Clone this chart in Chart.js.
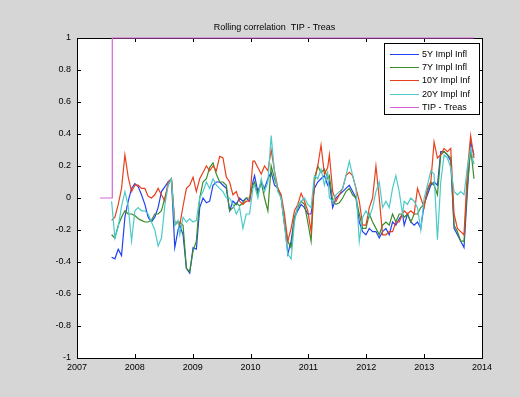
<!DOCTYPE html>
<html>
<head>
<meta charset="utf-8">
<script src="https://cdn.jsdelivr.net/npm/chart.js@4.4.1/dist/chart.umd.min.js"></script>
<style>
  html, body { margin: 0; padding: 0; background: #d6d6d6; }
  canvas { display: block; }
</style>
</head>
<body>
<canvas id="chart" width="520" height="397"></canvas>
<script>
// decimal years of the rolling window ends
var dates = [
  2007.598, 2007.655, 2007.713, 2007.770, 2007.828, 2007.885, 2007.943, 2008.000, 2008.058, 2008.115, 2008.173,
  2008.230, 2008.287, 2008.345, 2008.402, 2008.460, 2008.517, 2008.575, 2008.632, 2008.690, 2008.747,
  2008.776, 2008.833, 2008.891, 2008.948, 2009.006, 2009.063, 2009.121, 2009.178, 2009.236, 2009.293, 2009.351,
  2009.408, 2009.466, 2009.523, 2009.581, 2009.638, 2009.695, 2009.753, 2009.810, 2009.868, 2009.925, 2009.983, 2010.040,
  2010.069, 2010.126, 2010.184, 2010.241, 2010.299, 2010.356, 2010.414, 2010.471, 2010.529, 2010.586, 2010.644,
  2010.701, 2010.759, 2010.816, 2010.874, 2010.931, 2010.989, 2011.046, 2011.103, 2011.161, 2011.218, 2011.276, 2011.333,
  2011.362, 2011.419, 2011.477, 2011.534, 2011.592, 2011.649, 2011.707, 2011.764, 2011.822, 2011.879, 2011.937,
  2011.994, 2012.052, 2012.109, 2012.167, 2012.224, 2012.282, 2012.339, 2012.396, 2012.454, 2012.511, 2012.569, 2012.626,
  2012.655, 2012.712, 2012.770, 2012.827, 2012.885, 2012.942, 2013.000, 2013.057, 2013.115, 2013.172, 2013.230,
  2013.287, 2013.345, 2013.402, 2013.460, 2013.517, 2013.575, 2013.632, 2013.689, 2013.747, 2013.804, 2013.862
];

var impl5Y = [
  -0.37, -0.38, -0.32, -0.36, -0.12, -0.02, 0.06, 0.09, 0.07, 0.02, -0.04, -0.12, -0.15, -0.12, -0.06, 0.04, 0.07, 0.10, 0.12, -0.31, -0.20,
  -0.17, -0.23, -0.44, -0.47, -0.31, -0.32, -0.06, 0.00, -0.03, -0.02, 0.08, 0.10, 0.10, 0.08, 0.06, -0.08, -0.02, -0.04, 0.00, -0.02, 0.00, -0.02, 0.10,
  0.14, 0.04, 0.10, 0.06, 0.12, 0.16, 0.08, 0.06, 0.00, -0.15, -0.35, -0.27, -0.12, -0.08, -0.04, -0.06, -0.10, -0.10, 0.06, 0.10, 0.12, 0.14, 0.08,
  0.10, -0.06, 0.00, 0.02, 0.04, 0.06, 0.08, 0.04, 0.00, -0.15, -0.21, -0.23, -0.19, -0.21, -0.21, -0.25, -0.21, -0.19, -0.23, -0.15, -0.17, -0.13, -0.10,
  -0.17, -0.10, -0.15, -0.17, -0.15, -0.19, -0.04, 0.02, 0.08, 0.10, 0.08, 0.29, 0.29, 0.27, 0.23, -0.19, -0.23, -0.27, -0.31, 0.04, 0.35, 0.27
];

var impl7Y = [
  -0.23, -0.25, -0.17, -0.12, -0.08, -0.10, -0.10, -0.11, -0.13, -0.14, -0.15, -0.15, -0.14, -0.10, -0.10, -0.08, 0.00, 0.08, 0.12, -0.17, -0.15,
  -0.15, -0.17, -0.44, -0.46, -0.33, -0.27, 0.00, 0.10, 0.12, 0.19, 0.22, 0.15, 0.10, 0.10, 0.08, -0.08, -0.06, -0.03, -0.05, -0.03, 0.00, 0.00, 0.08,
  0.10, 0.02, 0.10, 0.00, -0.08, 0.20, 0.12, 0.06, 0.00, -0.17, -0.27, -0.31, -0.12, -0.06, -0.02, -0.04, -0.15, -0.27, 0.10, 0.20, 0.16, 0.18, 0.12,
  0.14, -0.02, -0.04, -0.03, 0.00, 0.04, 0.06, 0.02, 0.00, -0.10, -0.19, -0.19, -0.10, -0.15, -0.19, -0.23, -0.17, -0.15, -0.17, -0.10, -0.15, -0.10, -0.10,
  -0.12, -0.10, -0.15, -0.10, -0.10, -0.06, -0.04, 0.04, 0.10, 0.08, 0.02, 0.27, 0.29, 0.27, 0.25, -0.17, -0.21, -0.27, -0.27, 0.08, 0.31, 0.12
];

var impl10Y = [
  -0.14, -0.12, -0.04, 0.06, 0.27, 0.13, 0.04, 0.08, 0.08, 0.06, 0.06, 0.01, 0.00, 0.02, 0.06, 0.02, -0.02, 0.10, 0.12, -0.15, -0.15,
  -0.17, -0.05, 0.06, 0.08, 0.13, 0.04, 0.12, 0.16, 0.20, 0.17, 0.20, 0.17, 0.26, 0.25, 0.13, 0.10, 0.02, 0.04, -0.02, -0.04, -0.02, -0.02, 0.23,
  0.23, 0.19, 0.15, 0.20, 0.17, 0.30, 0.17, 0.06, 0.02, -0.10, -0.27, -0.19, -0.08, -0.04, 0.03, -0.02, -0.08, -0.21, 0.12, 0.20, 0.33, 0.15, 0.19,
  0.27, 0.04, -0.02, 0.02, 0.06, 0.14, 0.16, 0.14, 0.06, -0.02, -0.17, -0.17, -0.06, 0.00, 0.20, 0.00, -0.23, -0.23, -0.21, -0.21, -0.15, -0.15, -0.10,
  -0.08, -0.10, -0.08, -0.10, 0.06, 0.00, -0.06, 0.06, 0.10, 0.35, 0.25, 0.27, 0.31, 0.29, 0.31, -0.10, -0.19, -0.21, -0.23, 0.17, 0.39, 0.25
];

var impl20Y = [
  -0.02, -0.25, -0.18, -0.05, 0.04, -0.05, -0.27, -0.08, -0.06, -0.08, -0.08, -0.10, -0.15, -0.20, -0.30, -0.25, -0.05, 0.08, 0.12, -0.17, -0.14,
  -0.23, -0.12, -0.15, -0.13, -0.15, -0.14, 0.00, 0.04, 0.10, 0.06, 0.12, 0.08, 0.06, 0.04, 0.00, 0.00, -0.04, -0.10, -0.06, -0.19, -0.10, -0.10, 0.06,
  0.08, 0.00, 0.12, 0.04, 0.10, 0.39, 0.16, 0.04, 0.00, -0.17, -0.35, -0.38, -0.15, -0.05, -0.02, 0.00, -0.04, -0.06, 0.14, 0.12, 0.18, 0.08, 0.16,
  0.00, -0.02, 0.02, 0.04, 0.06, 0.14, 0.23, 0.14, 0.06, -0.27, -0.12, -0.08, -0.12, -0.06, 0.04, 0.10, -0.06, -0.02, -0.06, 0.06, 0.14, 0.04, -0.10,
  -0.02, -0.04, 0.00, -0.02, -0.06, -0.20, 0.00, 0.08, 0.17, 0.15, -0.26, 0.10, 0.27, 0.25, 0.19, 0.04, 0.02, 0.04, 0.02, 0.19, 0.31, 0.21
];

var tipDates = [2007.40, 2007.61, 2007.61, 2013.86];
var tipTreas = [0, 0, 1, 1];

var xTicks = [2007, 2008, 2009, 2010, 2011, 2012, 2013, 2014];
var chartTitle = 'Rolling correlation  TIP - Treas';

function pts(xs, ys) {
  return xs.map((x, i) => ({x: x, y: ys[i]}));
}

var FONT = "'Liberation Sans', Arial, sans-serif";
Chart.defaults.font.family = FONT;
Chart.defaults.font.size = 9;
Chart.defaults.color = '#000';

// box + inward ticks, matlab style
var framePlugin = {
  id: 'frame',
  beforeDatasetsDraw(chart) {
    var ctx = chart.ctx, a = chart.chartArea, x = chart.scales.x, y = chart.scales.y;
    ctx.save();
    ctx.fillStyle = '#fff';
    ctx.fillRect(a.left, a.top, a.right - a.left, a.bottom - a.top);
    ctx.strokeStyle = '#000';
    ctx.lineWidth = 1;
    ctx.strokeRect(Math.round(a.left) + 0.5, Math.round(a.top) + 0.5,
      Math.round(a.right - a.left), Math.round(a.bottom - a.top));
    ctx.beginPath();
    x.ticks.forEach(function(t) {
      var px = Math.round(x.getPixelForValue(t.value)) + 0.5;
      ctx.moveTo(px, a.bottom); ctx.lineTo(px, a.bottom - 4);
      ctx.moveTo(px, a.top); ctx.lineTo(px, a.top + 4);
    });
    y.ticks.forEach(function(t) {
      var py = Math.round(y.getPixelForValue(t.value)) + 0.5;
      ctx.moveTo(a.left, py); ctx.lineTo(a.left + 4, py);
      ctx.moveTo(a.right, py); ctx.lineTo(a.right - 4, py);
    });
    ctx.stroke();
    // title centred over the axes
    ctx.font = '9px ' + FONT;
    ctx.fillStyle = '#000';
    ctx.textAlign = 'center';
    ctx.textBaseline = 'middle';
    ctx.fillText(chartTitle, (a.left + a.right) / 2 - 5, 28);
    ctx.restore();
  }
};

// legend box in the top right corner
var legendPlugin = {
  id: 'boxLegend',
  afterDraw(chart) {
    var ctx = chart.ctx;
    var left = 384.5, top = 43.5, w = 95, h = 71;
    ctx.save();
    ctx.fillStyle = '#fff';
    ctx.fillRect(left, top, w, h);
    ctx.strokeStyle = '#000';
    ctx.lineWidth = 1;
    ctx.strokeRect(left, top, w, h);
    ctx.font = '9px ' + FONT;
    ctx.textBaseline = 'middle';
    ctx.fillStyle = '#000';
    chart.data.datasets.forEach(function(ds, i) {
      var ry = Math.round(53.5 + i * 13.4) + 0.5;
      ctx.strokeStyle = ds.borderColor;
      ctx.beginPath();
      ctx.moveTo(390, ry); ctx.lineTo(419, ry);
      ctx.stroke();
      ctx.fillText(ds.label, 422, ry);
    });
    ctx.restore();
  }
};

function line(label, data, color, order) {
  return {label: label, data: data, borderColor: color, backgroundColor: color,
    borderWidth: 1.2, pointRadius: 0, tension: 0, fill: false, order: order};
}

var datasets = [
  line('5Y Impl Infl', pts(dates, impl5Y), '#2242f0', 4),
  line('7Y Impl Infl', pts(dates, impl7Y), '#3a8c28', 3),
  line('10Y Impl Inf', pts(dates, impl10Y), '#e8401c', 2),
  line('20Y Impl Inf', pts(dates, impl20Y), '#4ccaca', 1),
  line('TIP - Treas', pts(tipDates, tipTreas), '#d860d8', 0)
];
datasets[4].clip = false;

new Chart(document.getElementById('chart'), {
  type: 'line',
  data: {datasets: datasets},
  options: {
    responsive: false,
    animation: false,
    devicePixelRatio: 1,
    layout: {padding: {left: 0, right: 38, top: 38, bottom: 0}},
    plugins: {
      legend: {display: false},
      tooltip: {enabled: false},
      title: {display: false}
    },
    scales: {
      x: {
        type: 'linear',
        min: 2007, max: 2014,
        grid: {display: false, drawTicks: false},
        border: {display: false},
        afterBuildTicks: function(s) { s.ticks = xTicks.map(v => ({value: v})); },
        afterFit: function(s) { s.height = 39; },
        ticks: {padding: 4, maxRotation: 0, autoSkip: false, callback: v => String(v)}
      },
      y: {
        min: -1, max: 1,
        grid: {display: false, drawTicks: false},
        border: {display: false},
        afterFit: function(s) { s.width = 77; },
        ticks: {stepSize: 0.2, padding: 6, callback: v => String(Number(v.toFixed(1)))}
      }
    }
  },
  plugins: [framePlugin, legendPlugin]
});
</script>
</body>
</html>
